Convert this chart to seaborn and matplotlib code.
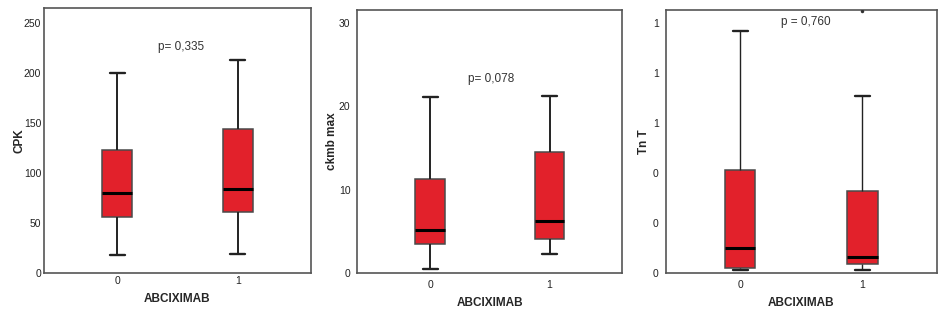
import pandas as pd
import seaborn as sns
import matplotlib.pyplot as plt
from matplotlib.ticker import FormatStrFormatter

# five-number summaries: min, Q1, median, Q3, max
groups = ["0", "1"]
cpk_0 = [18, 56, 80, 123, 200]
cpk_1 = [19, 61, 84, 144, 213]
ckmb_0 = [0.5, 3.45, 5.1, 11.3, 21.15]
ckmb_1 = [2.25, 4.05, 6.25, 14.55, 21.2]
tnt_0 = [0.011, 0.019, 0.098, 0.413, 0.969]
tnt_1 = [0.011, 0.036, 0.064, 0.328, 0.707]
tnt_outlier_1 = [1.047]

p_texts = ["p= 0,335", "p= 0,078", "p = 0,760"]
p_pos = [(0.53, 226), (0.51, 23.3), (0.535, 1.003)]
ylabels = ["CPK", "ckmb max", "Tn T"]
ylims = [(0, 265), (0, 31.6), (0, 1.053)]
yticks = [[0, 50, 100, 150, 200, 250], [0, 10, 20, 30], [0, 0.2, 0.4, 0.6, 0.8, 1.0]]
ylabel_x = [-0.071, -0.073, -0.058]

RED = "#E2212B"
EDGE = "#4a4a4a"

sns.set_style("white")
plt.rcParams["font.family"] = ["Liberation Sans", "DejaVu Sans"]

fig = plt.figure(figsize=(9.48, 3.21), dpi=100)
axes = [
    fig.add_axes([0.0464, 0.1495, 0.2817, 0.8255]),
    fig.add_axes([0.3770, 0.1505, 0.2795, 0.8185]),
    fig.add_axes([0.7022, 0.1505, 0.2859, 0.8185]),
]

series = [(cpk_0, cpk_1), (ckmb_0, ckmb_1), (tnt_0, tnt_1)]
for i, (ax, (g0, g1)) in enumerate(zip(axes, series)):
    df = pd.DataFrame({
        "ABCIXIMAB": [groups[0]] * len(g0) + [groups[1]] * len(g1),
        "value": g0 + g1,
    })
    wlw = 1.0 if i == 2 else 1.4
    sns.boxplot(data=df, x="ABCIXIMAB", y="value", order=groups, ax=ax,
                color=RED, saturation=1, width=0.25, whis=(0, 100),
                showfliers=False, linecolor=EDGE, linewidth=1.1,
                whiskerprops={"color": "#222222", "linewidth": wlw},
                capprops={"color": "#222222", "linewidth": 1.7},
                medianprops={"color": "black", "linewidth": 2.2})
    if i == 2:
        out = pd.DataFrame({"ABCIXIMAB": [groups[1]] * len(tnt_outlier_1),
                            "value": tnt_outlier_1})
        sns.stripplot(data=out, x="ABCIXIMAB", y="value", order=groups, ax=ax,
                      jitter=False, color="#333333", size=2.5)
        ax.yaxis.set_major_formatter(FormatStrFormatter("%.0f"))

    ax.set_xlim(-0.61, 1.61)
    ax.set_ylim(*ylims[i])
    ax.set_yticks(yticks[i])
    ax.set_xlabel("ABCIXIMAB", fontsize=8.5, fontweight="bold", labelpad=5)
    ax.set_ylabel(ylabels[i], fontsize=8.5, fontweight="bold")
    ax.yaxis.set_label_coords(ylabel_x[i], 0.5)
    ax.text(p_pos[i][0], p_pos[i][1], p_texts[i], ha="center", va="center",
            fontsize=8.5, color="#333333")
    tl = 0 if i == 0 else 3
    ax.tick_params(axis="both", labelsize=7.5, length=tl, width=1,
                   color="#444444", labelcolor="#222222", pad=2)
    for s in ax.spines.values():
        s.set_visible(True)
        s.set_color("#555555")
        s.set_linewidth(1.2)

fig.savefig("out.png", dpi=100)
